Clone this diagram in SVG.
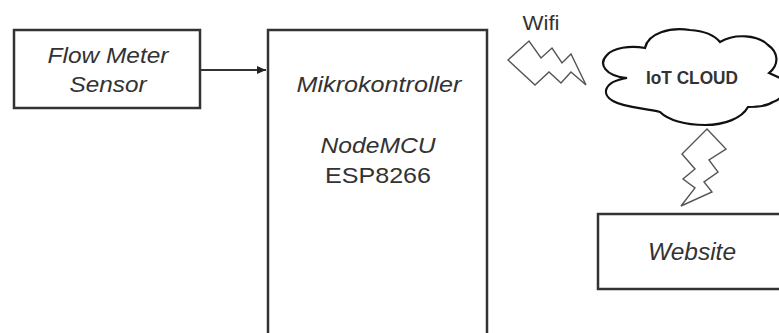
<svg xmlns="http://www.w3.org/2000/svg" width="779" height="333" viewBox="0 0 779 333">
<style>
.box{fill:#fff;stroke:#333;stroke-width:2.5}
.bolt{fill:#fff;stroke:#555;stroke-width:1.4;stroke-linejoin:miter}
.t{font-family:"Liberation Sans",Arial,sans-serif;fill:#333;text-anchor:middle}
.it{font-style:italic}
</style>
<defs>
<marker id="ah" markerWidth="10" markerHeight="10" refX="9" refY="5" orient="auto" markerUnits="userSpaceOnUse">
<path d="M0,1 L9,5 L0,9 Z" fill="#222"/>
</marker>
</defs>
<rect width="779" height="333" fill="#fff"/>
<g id="connectors">
<line x1="201" y1="70" x2="266" y2="70" stroke="#333" stroke-width="2" marker-end="url(#ah)"/>
<path class="bolt" d="M508,60 L529,41 L541,58 L552,48 L562,63 L571,54 L586,85 L571,72 L561,83 L549,72 L535,85 Z"/>
<path class="bolt" d="M707,129 L726,149 L709,160 L718,172 L704,182 L712,192 L681,206 L695,188 L683,179 L695,169 L682,154 Z"/>
<text class="t" x="541" y="30" font-size="20" textLength="37" lengthAdjust="spacingAndGlyphs">Wifi</text>
</g>
<g id="flow-meter">
<rect class="box" x="14" y="30" width="186" height="78"/>
<text class="t it" x="108" y="63" font-size="22" textLength="121" lengthAdjust="spacingAndGlyphs">Flow Meter</text>
<text class="t it" x="108" y="92" font-size="22" textLength="77" lengthAdjust="spacingAndGlyphs">Sensor</text>
</g>
<g id="mikrokontroller">
<rect class="box" x="268" y="30" width="219" height="320"/>
<text class="t it" x="379" y="92" font-size="22" textLength="165" lengthAdjust="spacingAndGlyphs">Mikrokontroller</text>
<text class="t it" x="378" y="153" font-size="22" textLength="115" lengthAdjust="spacingAndGlyphs">NodeMCU</text>
<text class="t" x="378" y="183" font-size="22" textLength="106" lengthAdjust="spacingAndGlyphs">ESP8266</text>
</g>
<g id="iot-cloud">
<path d="M645,48 C648,33 670,27 690,30 C705,31 715,36 720,42 C735,33 758,35 768,45 C778,52 780,64 769,73 L780,78 C787,84 787,97 773,102 C767,106 755,107 748,107 C742,118 725,125 705,125 C685,125 668,120 660,112 C645,108 625,108 613,101 C602,95 602,82 627,78 C605,76 598,64 607,55 C613,48 630,45 645,48 Z" fill="#fff" stroke="#111" stroke-width="2.2"/>
<text class="t" x="692" y="84" font-size="17.5" font-weight="bold" textLength="92" lengthAdjust="spacingAndGlyphs" fill="#222">IoT CLOUD</text>
</g>
<g id="website">
<rect class="box" x="598" y="214" width="190" height="75"/>
<text class="t it" x="692" y="260" font-size="23" textLength="88" lengthAdjust="spacingAndGlyphs">Website</text>
</g>
</svg>
